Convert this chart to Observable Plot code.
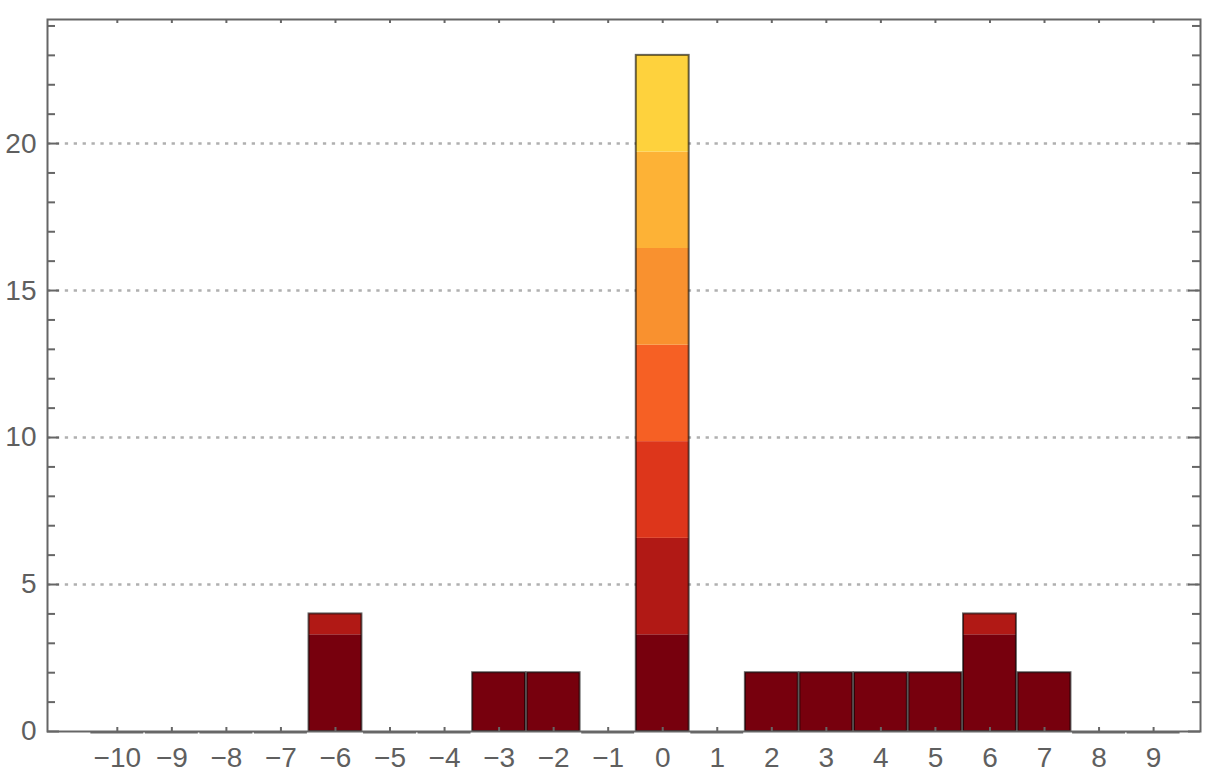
<!DOCTYPE html>
<html><head><meta charset="utf-8">
<script src="https://cdn.jsdelivr.net/npm/d3@7"></script>
<script src="https://cdn.jsdelivr.net/npm/@observablehq/plot@0.6"></script>
<style>body{margin:0;background:#fff}</style>
</head><body><div id="chart"></div>
<script>
// ---- data ----
const categories = [-10, -9, -8, -7, -6, -5, -4, -3, -2, -1, 0, 1, 2, 3, 4, 5, 6, 7, 8, 9];
const values     = [  0,  0,  0,  0,  4,  0,  0,  2,  2,  0, 23, 0, 2, 2, 2, 2, 4, 2, 0, 0];
const bandEdges  = [0, 3.29, 6.57, 9.86, 13.14, 16.43, 19.71, 23];
const bandColors = ["#77000d", "#b11915", "#dd361b", "#f66024", "#f9912f", "#fdb236", "#fed23d"];
const yLabelTicks = [0, 5, 10, 15, 20];
const yGridTicks  = [5, 10, 15, 20];
const yMinorTicks = [1,2,3,4,6,7,8,9,11,12,13,14,16,17,18,19,21,22,23,24];
const xTicks = categories;

// ---- layout ----
const W = 1218, H = 784, mL = 47, mR = 18, mT = 19, mB = 53;
const fw = W - mL - mR, fh = H - mT - mB;
const half = 0.485;

const bars = categories.map((c, i) => ({c, v: values[i]}));
const filled = bars.filter(b => b.v > 0);
const empty = bars.filter(b => b.v === 0);
const segments = [];
for (const b of filled) {
  for (let k = 0; k < bandColors.length; k++) {
    const lo = bandEdges[k], hi = Math.min(bandEdges[k + 1], b.v);
    if (hi > lo) segments.push({c: b.c, lo, hi, color: bandColors[k]});
  }
}

const axisColor = "#666";
const chart = Plot.plot({
  width: W, height: H,
  marginLeft: mL, marginRight: mR, marginTop: mT, marginBottom: mB,
  x: {type: "linear", domain: [-11.28, 9.86]},
  y: {domain: [0, 24.22]},
  color: {type: "identity"},
  style: {fontFamily: "'Liberation Sans', Arial, sans-serif", fontSize: "28px", background: "#fff"},
  marks: [
    Plot.ruleY(yGridTicks, {y: d => d, stroke: "#b0b0b0", strokeWidth: 2.5, strokeDasharray: "3.3,5.6"}),
    Plot.rect(segments, {x1: d => d.c - half, x2: d => d.c + half, y1: "lo", y2: "hi", fill: "color"}),
    Plot.rect(filled, {x1: d => d.c - half, x2: d => d.c + half, y1: 0, y2: "v", fill: "none", stroke: "black", strokeOpacity: 0.6, strokeWidth: 2}),
    Plot.ruleY(empty, {y: 0, x1: d => d.c - half, x2: d => d.c + half, stroke: "#6a6a6a", strokeWidth: 2, dy: 1}),
    Plot.frame({stroke: axisColor, strokeWidth: 2}),
    // left/right y ticks
    Plot.tickY(yMinorTicks, {y: d => d, stroke: axisColor, strokeWidth: 2, insetRight: fw - 8}),
    Plot.tickY(yLabelTicks, {y: d => d, stroke: axisColor, strokeWidth: 2, insetRight: fw - 12}),
    Plot.tickY(yMinorTicks, {y: d => d, stroke: axisColor, strokeWidth: 2, insetLeft: fw - 8}),
    Plot.tickY(yLabelTicks, {y: d => d, stroke: axisColor, strokeWidth: 2, insetLeft: fw - 12}),
    // bottom/top x ticks
    Plot.tickX(xTicks, {x: d => d, stroke: axisColor, strokeWidth: 2, insetTop: fh - 4}),
    Plot.tickX(xTicks, {x: d => d, stroke: axisColor, strokeWidth: 2, insetBottom: fh - 4}),
    Plot.axisY(yLabelTicks, {anchor: "left", tickSize: 0, tickPadding: 11, fontSize: 28, fill: "#5f5f5f"}),
    Plot.axisX(xTicks, {anchor: "bottom", tickSize: 0, tickPadding: 16, fontSize: 28, fill: "#5f5f5f"})
  ]
});
document.getElementById("chart").appendChild(chart);
</script>
</body></html>
